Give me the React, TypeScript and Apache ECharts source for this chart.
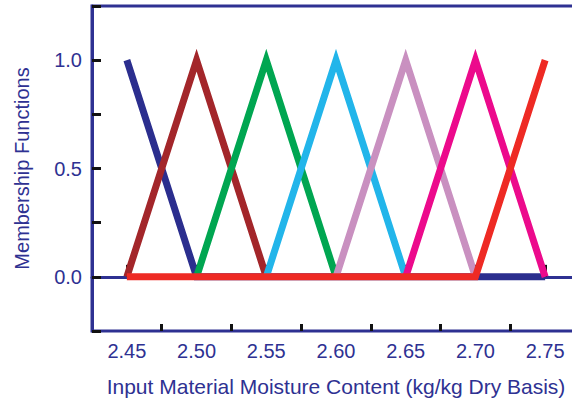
import React, { useEffect, useRef } from "react";
import * as echarts from "echarts";

const NAVY = "#2E3192";
const xMajorTicks = [2.45, 2.5, 2.55, 2.6, 2.65, 2.7, 2.75];
const xMinorTicks = [2.475, 2.525, 2.575, 2.625, 2.675, 2.725];
const yLabelValues = [0, 0.5, 1];

const seriesNames = ["s1", "s2", "s3", "s4", "s5", "s6", "s7"];
const seriesColors = ["#2B2E8E", "#A3262A", "#00A651", "#22B5EA", "#C990C0", "#EC0A8C", "#EE2A24"];
const s1 = [[2.45, 1], [2.5, 0], [2.75, 0]];
const s2 = [[2.45, 0], [2.5, 1], [2.55, 0]];
const s3 = [[2.5, 0], [2.55, 1], [2.6, 0]];
const s4 = [[2.55, 0], [2.6, 1], [2.65, 0]];
const s5 = [[2.6, 0], [2.65, 1], [2.7, 0]];
const s6 = [[2.65, 0], [2.7, 1], [2.75, 0]];
const s7 = [[2.45, 0], [2.7, 0], [2.75, 1]];
const seriesData = [s1, s2, s3, s4, s5, s6, s7];

export default function App() {
  const ref = useRef<HTMLDivElement>(null);
  useEffect(() => {
    const chart = echarts.init(ref.current!, null, { renderer: "svg" });
    const font = "'Liberation Sans', Arial, sans-serif";
    chart.setOption({
      animation: false,
      textStyle: { fontFamily: font },
      grid: {
        left: 92,
        top: 6,
        bottom: 72,
        right: -8,
        show: true,
        borderColor: NAVY,
        borderWidth: 3,
        containLabel: false,
        outerBoundsMode: "none",
      },
      xAxis: [
        {
          type: "value",
          min: 2.425,
          max: 2.775,
          interval: 0.025,
          splitLine: { show: false },
          axisLine: { show: true, lineStyle: { color: NAVY, width: 3 } },
          axisTick: {
            show: true,
            inside: true,
            length: 12,
            customValues: xMajorTicks,
            lineStyle: { color: "#111", width: 3 },
          },
          axisLabel: {
            customValues: xMajorTicks,
            formatter: (v: number) => v.toFixed(2),
            color: NAVY,
            fontSize: 20,
            margin: 10,
            fontFamily: font,
          },
          name: "Input Material Moisture Content (kg/kg Dry Basis)",
          nameLocation: "middle",
          nameGap: 45,
          nameTextStyle: { color: NAVY, fontSize: 21, fontFamily: font },
        },
        {
          type: "value",
          min: 2.425,
          max: 2.775,
          interval: 0.025,
          position: "bottom",
          splitLine: { show: false },
          axisLine: { show: false },
          axisTick: {
            show: true,
            inside: true,
            length: 7,
            customValues: xMinorTicks,
            lineStyle: { color: "#111", width: 3 },
          },
          axisLabel: { show: false },
        },
      ],
      yAxis: {
        type: "value",
        min: -0.25,
        max: 1.25,
        interval: 0.25,
        splitLine: { show: false },
        axisLine: { show: true, lineStyle: { color: NAVY, width: 3 } },
        axisTick: { show: true, inside: true, length: 9, lineStyle: { color: "#111", width: 3 } },
        axisLabel: {
          customValues: yLabelValues,
          formatter: (v: number) => v.toFixed(1),
          color: NAVY,
          fontSize: 20,
          margin: 10,
          fontFamily: font,
        },
        name: "Membership Functions",
        nameLocation: "middle",
        nameGap: 60,
        nameTextStyle: { color: NAVY, fontSize: 20, fontFamily: font },
      },
      series: seriesData.map((d, i) => ({
        name: seriesNames[i],
        type: "line",
        data: d,
        symbol: "none",
        showSymbol: false,
        lineStyle: { color: seriesColors[i], width: 7, join: "miter", cap: "butt" },
        z: 2 + i,
      })),
    });
    return () => chart.dispose();
  }, []);
  return (
    <div
      ref={ref}
      style={{ position: "fixed", left: 0, top: 0, width: 572, height: 403, background: "#fff" }}
    />
  );
}
